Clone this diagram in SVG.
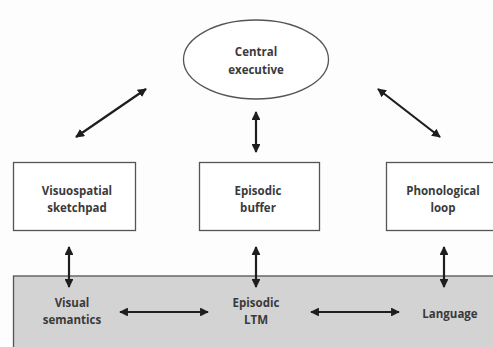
<svg xmlns="http://www.w3.org/2000/svg" width="493" height="347" viewBox="0 0 493 347">
<style>
.node{fill:#fff;stroke:#555;stroke-width:1.3}
.lbl{font-family:"Open Sans","Liberation Sans",sans-serif;font-size:11.5px;font-weight:700;fill:#3a3a3a;text-anchor:middle}
.conn line{stroke:#1e1e1e;stroke-width:2.2}
</style>
<defs>
<marker id="ah" viewBox="0 0 10 10" refX="9" refY="5" markerWidth="4" markerHeight="4" orient="auto-start-reverse" markerUnits="strokeWidth">
<path d="M0,0 L10,5 L0,10 z" fill="#1e1e1e"/>
</marker>
</defs>
<rect width="493" height="347" fill="#fdfdfd"/>
<g id="ltm">
<rect x="13.5" y="276" width="490" height="80" fill="#d3d3d3" stroke="#555" stroke-width="1.3"/>
</g>
<g id="central-executive">
<ellipse class="node" cx="256" cy="59.5" rx="72.5" ry="39.5"/>
<text class="lbl" x="256" y="56">Central</text>
<text class="lbl" x="256" y="74">executive</text>
</g>
<g id="visuospatial-sketchpad">
<rect class="node" x="13.5" y="162.5" width="122" height="68"/>
<text class="lbl" x="77" y="195">Visuospatial</text>
<text class="lbl" x="77" y="212">sketchpad</text>
</g>
<g id="episodic-buffer">
<rect class="node" x="199.5" y="162.5" width="120" height="68"/>
<text class="lbl" x="258" y="195">Episodic</text>
<text class="lbl" x="258" y="212">buffer</text>
</g>
<g id="phonological-loop">
<rect class="node" x="386.5" y="162.5" width="120" height="68"/>
<text class="lbl" x="443" y="195">Phonological</text>
<text class="lbl" x="443" y="212">loop</text>
</g>
<g id="visual-semantics">
<text class="lbl" x="72" y="307">Visual</text>
<text class="lbl" x="72" y="324">semantics</text>
</g>
<g id="episodic-ltm">
<text class="lbl" x="256" y="307">Episodic</text>
<text class="lbl" x="256" y="324">LTM</text>
</g>
<g id="language">
<text class="lbl" x="450" y="318">Language</text>
</g>
<g class="conn" id="connectors">
<line x1="76" y1="137" x2="146" y2="89" marker-start="url(#ah)" marker-end="url(#ah)"/>
<line x1="256" y1="112" x2="256" y2="152" marker-start="url(#ah)" marker-end="url(#ah)"/>
<line x1="378" y1="89" x2="440" y2="137" marker-start="url(#ah)" marker-end="url(#ah)"/>
<line x1="69" y1="247" x2="69" y2="287" marker-start="url(#ah)" marker-end="url(#ah)"/>
<line x1="256" y1="247" x2="256" y2="287" marker-start="url(#ah)" marker-end="url(#ah)"/>
<line x1="444" y1="247" x2="444" y2="287" marker-start="url(#ah)" marker-end="url(#ah)"/>
<line x1="120" y1="312" x2="208" y2="312" marker-start="url(#ah)" marker-end="url(#ah)"/>
<line x1="311" y1="312" x2="399" y2="312" marker-start="url(#ah)" marker-end="url(#ah)"/>
</g>
</svg>
